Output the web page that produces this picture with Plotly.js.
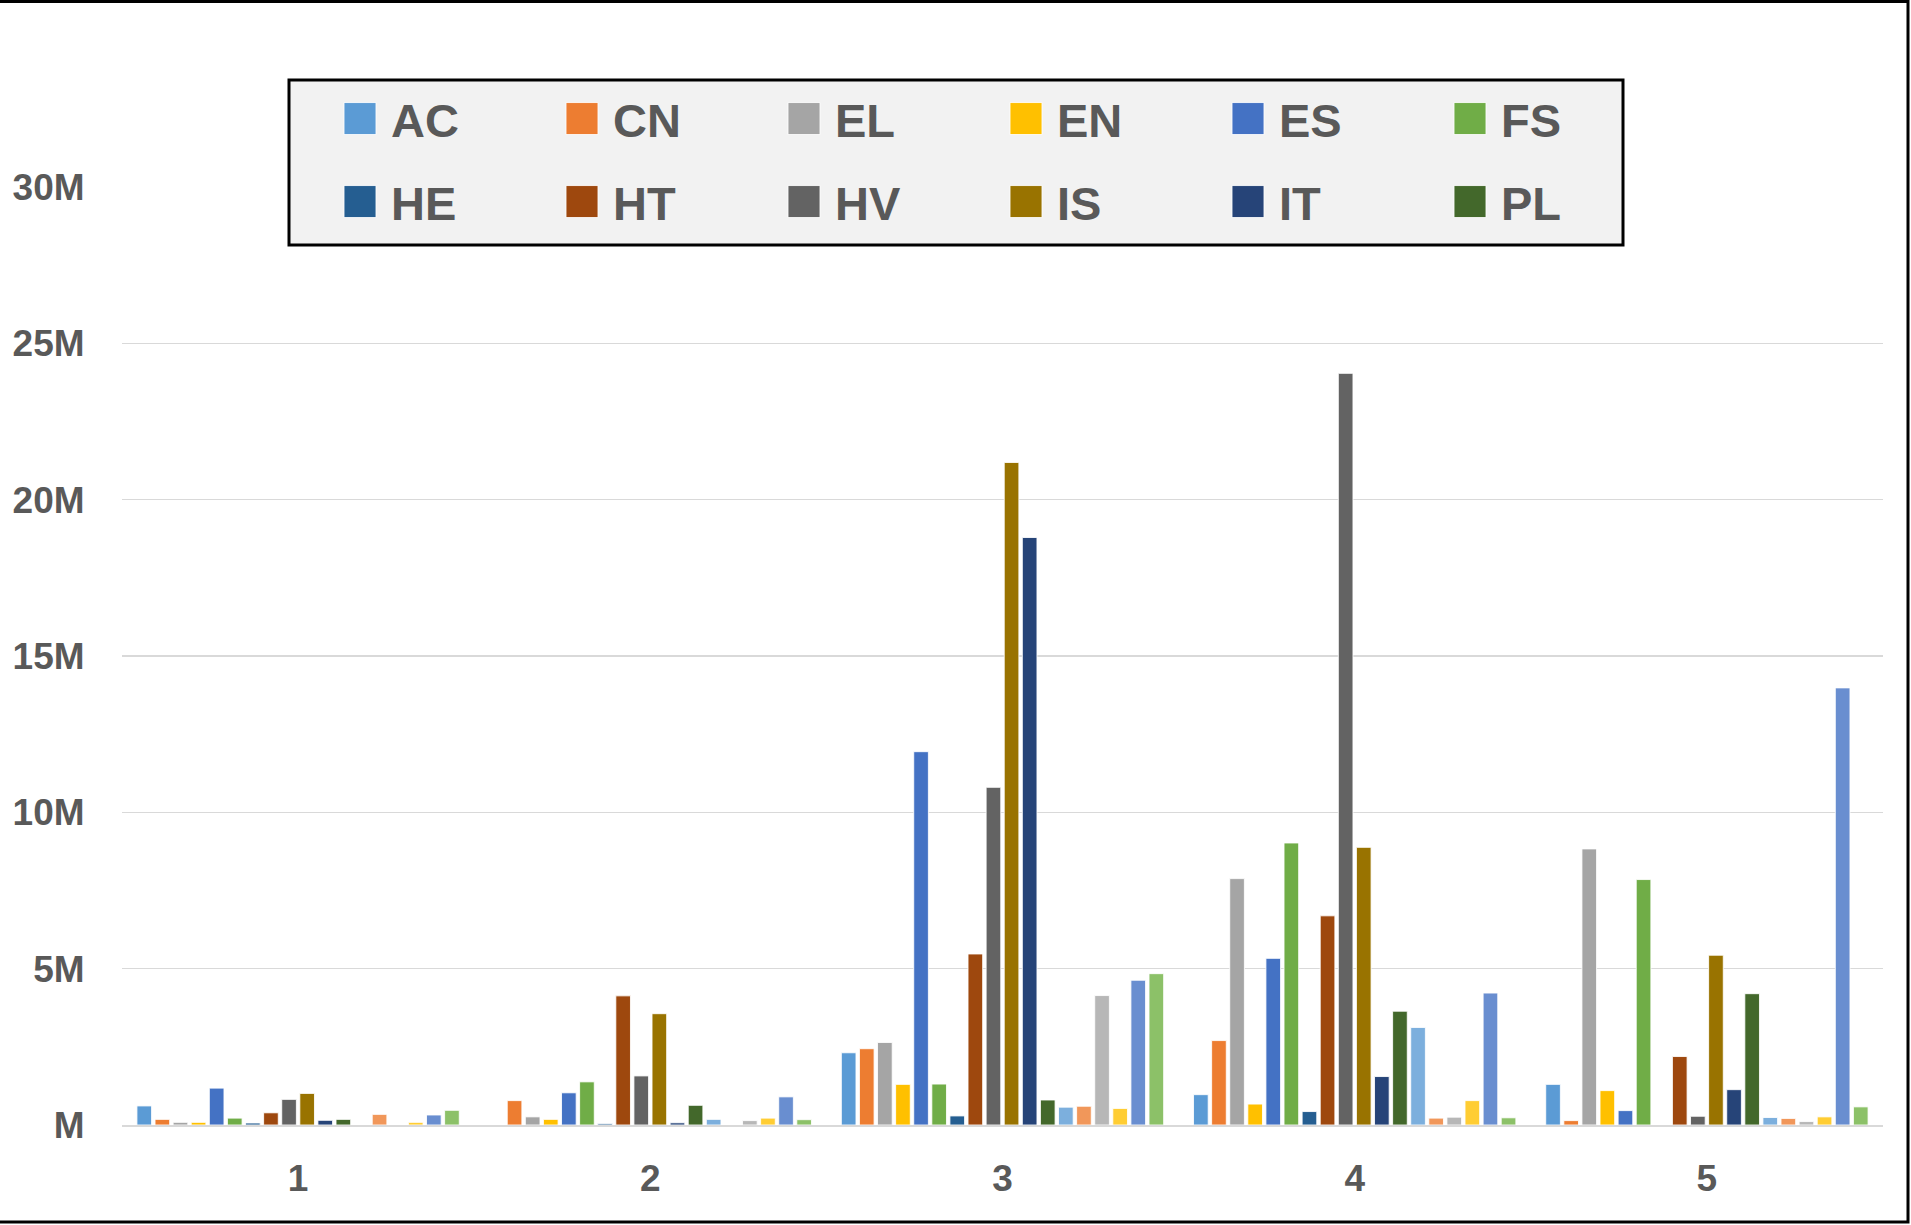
<!DOCTYPE html>
<html>
<head>
<meta charset="utf-8">
<script src="https://cdn.plot.ly/plotly-3.0.1.min.js"></script>
<style>
  html, body { margin: 0; padding: 0; background: #ffffff; }
  #chart { width: 1911px; height: 1225px; }
</style>
</head>
<body>
<div id="chart"></div>
<script>
// Categories (x axis)
const categories = ['1', '2', '3', '4', '5'];

// Series values, in millions
const AC  = [0.61, 0,    2.31,  0.97, 1.30];
const CN  = [0.18, 0.78, 2.44,  2.70, 0.14];
const EL  = [0.085,0.26, 2.64,  7.88, 8.83];
const EN  = [0.085,0.18, 1.30,  0.67, 1.10];
const ES  = [1.18, 1.03, 11.94, 5.33, 0.46];
const FS  = [0.22, 1.38, 1.31,  9.02, 7.85];
const HE  = [0.064,0.04, 0.29,  0.43, 0];
const HT  = [0.39, 4.13, 5.47,  6.69, 2.19];
const HV  = [0.82, 1.57, 10.8,  24.04,0.28];
const IS  = [1.01, 3.56, 21.19, 8.88, 5.43];
const IT  = [0.15, 0.07, 18.79, 1.55, 1.13];
const PL  = [0.18, 0.63, 0.80,  3.64, 4.20];
const S13 = [0,    0.18, 0.57,  3.12, 0.24];
const S14 = [0.34, 0,    0.60,  0.22, 0.21];
const S15 = [0,    0.14, 4.14,  0.25, 0.11];
const S16 = [0.085,0.22, 0.53,  0.78, 0.26];
const S17 = [0.32, 0.90, 4.63,  4.22, 13.98];
const S18 = [0.47, 0.17, 4.84,  0.23, 0.58];

// Y tick labels
const yTickVals = [0, 5, 10, 15, 20, 25, 30];
const yTickText = ['M', '5M', '10M', '15M', '20M', '25M', '30M'];

// Series names and colours
const seriesNames = ['AC','CN','EL','EN','ES','FS','HE','HT','HV','IS','IT','PL','S13','S14','S15','S16','S17','S18'];
const seriesValues = [AC, CN, EL, EN, ES, FS, HE, HT, HV, IS, IT, PL, S13, S14, S15, S16, S17, S18];
const seriesColors = ['#5B9BD5','#ED7D31','#A5A5A5','#FFC000','#4472C4','#70AD47',
                      '#255E91','#9E480E','#636363','#997300','#264478','#43682B',
                      '#7CAFDD','#F1975A','#B7B7B7','#FFCD33','#698ED0','#8CC168'];

const W = 1911, H = 1225;
const mL = 122, mR = 28, mT = 187, mB = 100;
const pw = W - mL - mR, ph = H - mT - mB;
const px2x = p => (p - mL) / pw;
const px2y = p => (H - mB - p) / ph;

const traces = seriesNames.map((name, i) => ({
  type: 'bar',
  name: name,
  x: categories,
  y: seriesValues[i],
  marker: { color: seriesColors[i], line: { color: 'rgba(255,255,255,0.85)', width: 1 } },
  showlegend: i < 12,
  legend: i < 6 ? 'legend' : 'legend2',
  hoverinfo: 'name+y'
}));

const legendFont = { family: '"Liberation Sans", Arial, sans-serif', size: 47, color: '#595959', weight: 'bold' };
const legendCommon = {
  orientation: 'h',
  xanchor: 'left',
  yanchor: 'middle',
  bgcolor: 'rgba(0,0,0,0)',
  borderwidth: 0,
  font: legendFont,
  itemwidth: 52,
  entrywidth: 155,
  entrywidthmode: 'pixels',
  traceorder: 'normal',
  itemclick: false,
  itemdoubleclick: false
};

const tickFont = { family: '"Liberation Sans", Arial, sans-serif', size: 37, color: '#595959', weight: 'bold' };

const layout = {
  width: W,
  height: H,
  margin: { l: mL, r: mR, t: mT, b: mB, pad: 0 },
  paper_bgcolor: '#ffffff',
  plot_bgcolor: '#ffffff',
  barmode: 'group',
  bargap: 0.075,
  bargroupgap: 0.19,
  showlegend: true,
  legend: Object.assign({}, legendCommon, { x: px2x(329), y: px2y(119) }),
  legend2: Object.assign({}, legendCommon, { x: px2x(329), y: px2y(202) }),
  xaxis: {
    type: 'category',
    showgrid: false,
    showline: true,
    linecolor: '#d9d9d9',
    linewidth: 2,
    ticks: 'outside',
    ticklen: 20,
    tickcolor: 'rgba(0,0,0,0)',
    tickfont: tickFont,
    zeroline: false
  },
  yaxis: {
    range: [0, 30],
    tickvals: yTickVals,
    ticktext: yTickText,
    showgrid: true,
    gridcolor: '#d9d9d9',
    gridwidth: 1.5,
    zeroline: false,
    showline: false,
    ticks: 'outside',
    ticklen: 29,
    tickcolor: 'rgba(0,0,0,0)',
    tickfont: tickFont
  },
  shapes: [
    {
      type: 'rect', xref: 'paper', yref: 'paper', layer: 'above',
      x0: px2x(289), x1: px2x(1623), y0: px2y(245), y1: px2y(80),
      fillcolor: '#f2f2f2',
      line: { color: '#000000', width: 3 }
    },
    {
      type: 'rect', xref: 'paper', yref: 'paper', layer: 'above',
      x0: px2x(-10), x1: px2x(1908), y0: px2y(1222), y1: px2y(1.5),
      fillcolor: 'rgba(0,0,0,0)',
      line: { color: '#000000', width: 3 }
    }
  ]
};

function enlargeLegendSymbols() {
  document.querySelectorAll('#chart .legendpoints path').forEach(p => {
    p.setAttribute('d', 'M16,16H-16V-16H16Z');
    p.style.strokeWidth = '1px';
  });
}

Plotly.newPlot('chart', traces, layout, { displayModeBar: false, staticPlot: true })
  .then(enlargeLegendSymbols);
</script>
</body>
</html>
